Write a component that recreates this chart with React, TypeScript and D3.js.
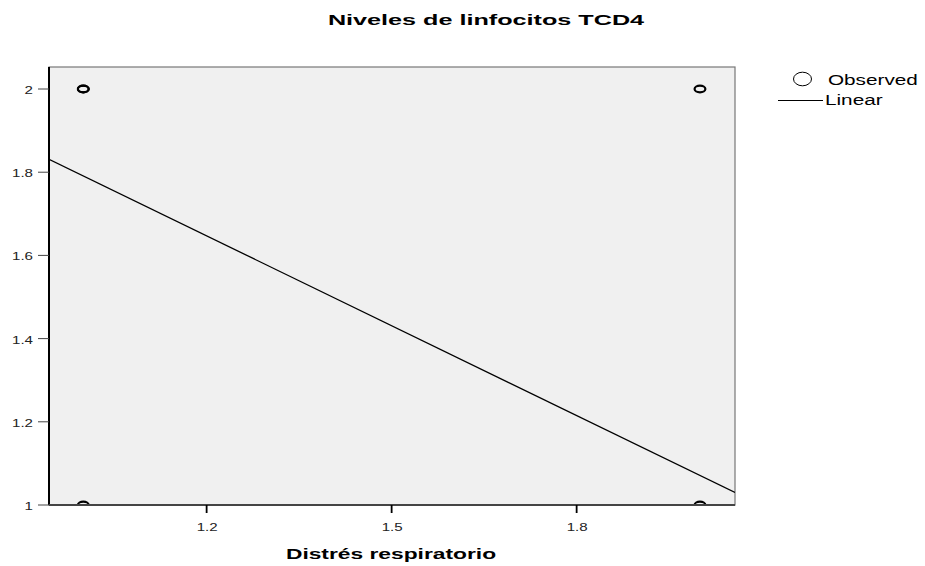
import React from "react";
import * as d3 from "d3";

// Observed cases: Distrés respiratorio (x) vs Niveles de linfocitos TCD4 (y)
const observedX = [1, 1, 2, 2, 1];
const observedY = [2, 1, 2, 1, 2];

// Linear fit: y = intercept + slope * x
const fitIntercept = 2.511;
const fitSlope = -0.72;

const xTicks = [1.2, 1.5, 1.8];
const yTicks = [1, 1.2, 1.4, 1.6, 1.8, 2];

const title = "Niveles de linfocitos TCD4";
const xTitle = "Distrés respiratorio";
const legendLabels = ["Observed", "Linear"];

const W = 925;
const H = 566;
const plot = { left: 49, top: 67, right: 735, bottom: 505 };
const font = "Arial, 'Liberation Sans', sans-serif";
// the chart's text is drawn horizontally widened
const stretch = 1.42;

type StretchTextProps = {
  x: number;
  y: number;
  anchor?: "start" | "middle" | "end";
  size: number;
  bold?: boolean;
  sx?: number;
  fill?: string;
  children: React.ReactNode;
};

function StretchText({ x, y, anchor = "start", size, bold, sx = stretch, fill = "#000", children }: StretchTextProps) {
  return (
    <g transform={`translate(${x},${y}) scale(${sx},1)`}>
      <text x={0} y={0} textAnchor={anchor} fontSize={size} fontWeight={bold ? "bold" : "normal"} fill={fill}>
        {children}
      </text>
    </g>
  );
}

export default function App() {
  const x = d3.scaleLinear().domain([0.9444, 2.0568]).range([plot.left, plot.right]);
  const y = d3.scaleLinear().domain([1, 2.0529]).range([plot.bottom, plot.top]);

  const fitLine = d3
    .line<number>()
    .x((d) => x(d))
    .y((d) => y(fitIntercept + fitSlope * d));
  const [x0, x1] = x.domain();

  return (
    <svg
      width={W}
      height={H}
      style={{ position: "absolute", left: 0, top: 0, display: "block", background: "#fff" }}
      fontFamily={font}
    >
      <defs>
        <clipPath id="plot-clip">
          <rect x={plot.left} y={plot.top} width={plot.right - plot.left} height={plot.bottom - plot.top} />
        </clipPath>
      </defs>

      <StretchText x={486} y={25} anchor="middle" size={15} bold sx={1.68}>
        {title}
      </StretchText>

      {/* plot background and frame */}
      <rect
        x={plot.left}
        y={plot.top}
        width={plot.right - plot.left}
        height={plot.bottom - plot.top}
        fill="#f0f0f0"
        stroke="#777"
        strokeWidth={1.2}
      />

      {/* regression line */}
      <path d={fitLine([x0, x1]) ?? ""} fill="none" stroke="#000" strokeWidth={1.3} clipPath="url(#plot-clip)" />

      {/* observed points */}
      <g clipPath="url(#plot-clip)">
        {observedX.map((v, i) => (
          <ellipse
            key={i}
            cx={x(v)}
            cy={y(observedY[i])}
            rx={5.4}
            ry={3.3}
            fill="none"
            stroke="#000"
            strokeWidth={2.2}
          />
        ))}
      </g>

      {/* axis lines */}
      <line x1={plot.left} x2={plot.left} y1={plot.top} y2={plot.bottom} stroke="#000" strokeWidth={2} />
      <line x1={plot.left} x2={plot.right} y1={plot.bottom} y2={plot.bottom} stroke="#444" strokeWidth={1.8} />

      {/* y axis */}
      {yTicks.map((t) => (
        <g key={t}>
          <line x1={38} x2={plot.left} y1={y(t)} y2={y(t)} stroke="#444" strokeWidth={1} />
          <StretchText x={33} y={y(t) + 5} anchor="end" size={11} sx={1.37} fill="#222">
            {d3.format("")(t)}
          </StretchText>
        </g>
      ))}

      {/* x axis */}
      {xTicks.map((t) => (
        <g key={t}>
          <line x1={x(t)} x2={x(t)} y1={plot.bottom} y2={plot.bottom + 8} stroke="#000" strokeWidth={1.8} />
          <StretchText x={x(t) + 0.5} y={531} anchor="middle" size={11} sx={1.37} fill="#222">
            {t.toFixed(1)}
          </StretchText>
        </g>
      ))}

      <StretchText x={391} y={559} anchor="middle" size={15} bold sx={1.52}>
        {xTitle}
      </StretchText>

      {/* legend */}
      <ellipse cx={802.5} cy={79} rx={9} ry={6.8} fill="none" stroke="#000" strokeWidth={1} />
      <StretchText x={828} y={85} size={14} sx={1.48}>
        {legendLabels[0]}
      </StretchText>
      <line x1={778} x2={823} y1={100.5} y2={100.5} stroke="#000" strokeWidth={1} />
      <StretchText x={825} y={105} size={14} sx={1.48}>
        {legendLabels[1]}
      </StretchText>
    </svg>
  );
}
